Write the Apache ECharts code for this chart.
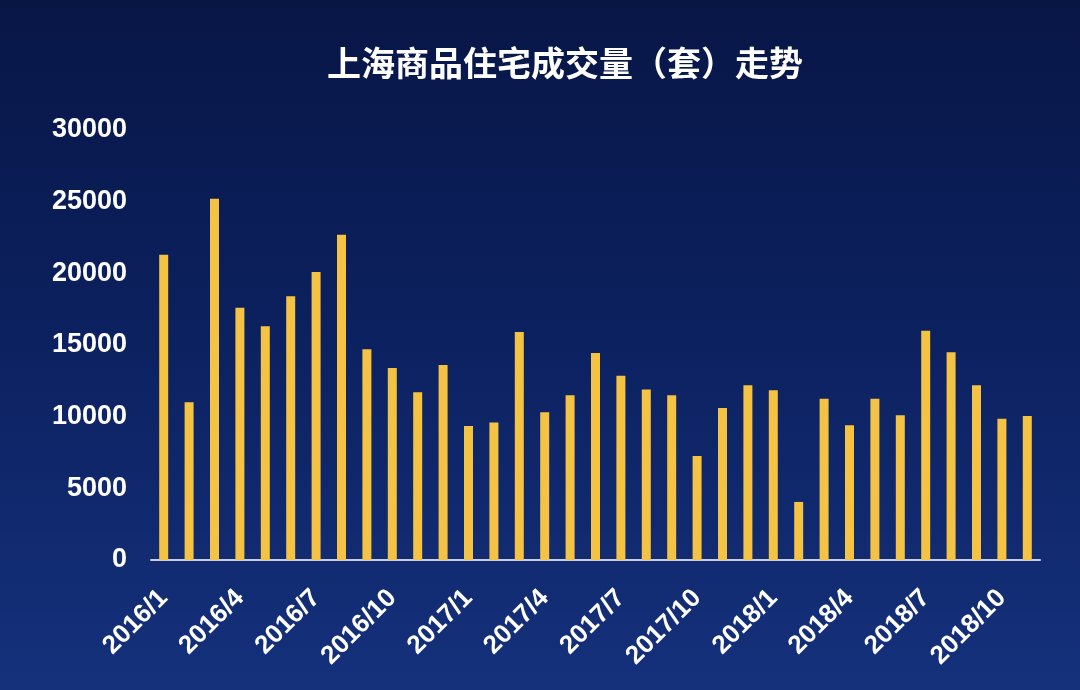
<!DOCTYPE html>
<html>
<head>
<meta charset="utf-8">
<script src="https://cdn.jsdelivr.net/npm/echarts@6/dist/echarts.min.js"></script>
<style>
html,body{margin:0;padding:0;width:1080px;height:690px;overflow:hidden;}
#c{width:1080px;height:690px;}
</style>
</head>
<body>
<div id="c"></div>
<script>
const titleText = '上海商品住宅成交量（套）走势';
const categories = [
  '2016/1','2016/2','2016/3','2016/4','2016/5','2016/6','2016/7','2016/8','2016/9','2016/10','2016/11','2016/12',
  '2017/1','2017/2','2017/3','2017/4','2017/5','2017/6','2017/7','2017/8','2017/9','2017/10','2017/11','2017/12',
  '2018/1','2018/2','2018/3','2018/4','2018/5','2018/6','2018/7','2018/8','2018/9','2018/10','2018/11'
];
const volumes = [
  21300, 11000, 25200, 17600, 16300, 18400, 20100, 22700, 14700, 13400, 11700, 13600,
  9350, 9600, 15900, 10300, 11500, 14450, 12850, 11900, 11500, 7250, 10600, 12200,
  11850, 4050, 11250, 9400, 11250, 10100, 16000, 14500, 12200, 9850, 10050
];
const yTicks = [0, 5000, 10000, 15000, 20000, 25000, 30000];

const chart = echarts.init(document.getElementById('c'), null, {renderer: 'canvas'});
chart.setOption({
  backgroundColor: new echarts.graphic.LinearGradient(0, 0, 0, 1, [
    {offset: 0, color: '#081646'},
    {offset: 0.5, color: '#0c2160'},
    {offset: 1, color: '#15317c'}
  ]),
  title: {
    text: titleText,
    left: 560, top: 41,
    textAlign: 'center',
    textStyle: {color: '#ffffff', fontSize: 34, fontWeight: 'bold', fontFamily: 'Noto Sans CJK SC'}
  },
  grid: {left: 151, right: 40, top: 130, bottom: 130, containLabel: false},
  xAxis: {
    type: 'category',
    data: categories,
    boundaryGap: true,
    axisLine: {show: true, lineStyle: {color: '#c8cde0', width: 2}},
    axisTick: {show: false},
    axisLabel: {
      interval: 2, rotate: 45, color: '#ffffff', fontSize: 26, fontWeight: 'bold',
      fontFamily: 'Liberation Sans, Arial', margin: 34
    },
    splitLine: {show: false}
  },
  yAxis: {
    type: 'value',
    min: yTicks[0], max: yTicks[yTicks.length - 1], interval: 5000,
    axisLine: {show: false},
    axisTick: {show: false},
    splitLine: {show: false},
    axisLabel: {
      color: '#ffffff', fontSize: 27, fontWeight: 'bold', fontFamily: 'Liberation Sans, Arial', margin: 24,
      formatter: function (v) { return String(v); }
    }
  },
  series: [{
    type: 'bar',
    data: volumes,
    barWidth: 9,
    itemStyle: {color: '#f4c343'}
  }]
});
</script>
</body>
</html>
